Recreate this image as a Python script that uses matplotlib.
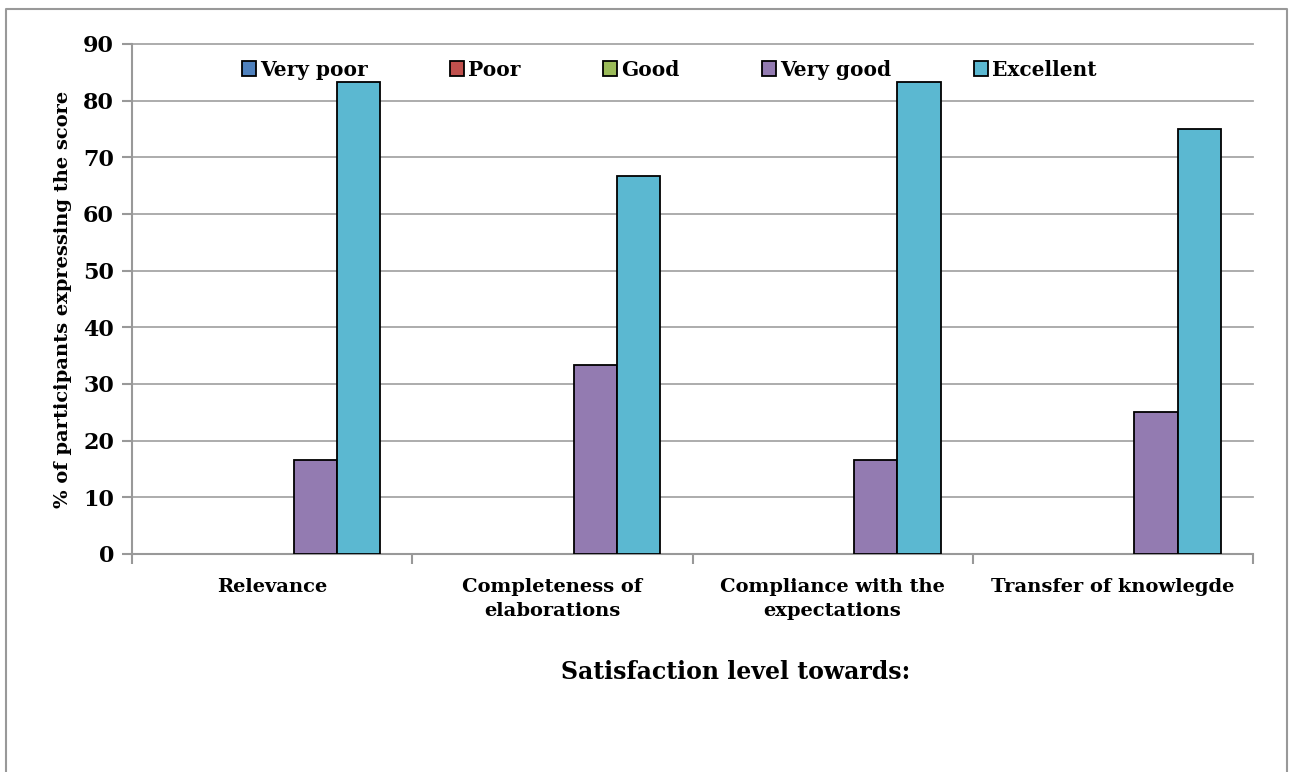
import matplotlib.pyplot as plt
import numpy as np
from matplotlib.lines import Line2D

# data
categories = ["Relevance", "Completeness of\nelaborations", "Compliance with the\nexpectations", "Transfer of knowlegde"]
series = ["Very poor", "Poor", "Good", "Very good", "Excellent"]
very_poor = [0, 0, 0, 0]
poor = [0, 0, 0, 0]
good = [0, 0, 0, 0]
very_good = [16.67, 33.33, 16.67, 25.0]
excellent = [83.33, 66.67, 83.33, 75.0]
colors = ['#4F81BD', '#C0504D', '#9BBB59', '#937BB1', '#5BB8D1']

plt.rcParams['font.family'] = ['DejaVu Serif']
plt.rcParams['font.weight'] = 'bold'

fig = plt.figure(figsize=(12.89, 7.72), dpi=100)
ax = fig.add_axes([132/1289, 1-554/772, (1253-132)/1289, (554-44)/772])

# outer chart border (left, top, right - bottom is cut off)
bx = [5.5/1289, 5.5/1289, 1287/1289, 1287/1289]
by = [0.0, 1-8.5/772, 1-8.5/772, 0.0]
fig.lines.append(Line2D(bx, by, transform=fig.transFigure, color='#999999', linewidth=1.5))

x = np.arange(len(categories))
w = 0.154
all_vals = [very_poor, poor, good, very_good, excellent]
for i, (name, vals) in enumerate(zip(series, all_vals)):
    lw = [1.3 if v > 0 else 0 for v in vals]
    ax.bar(x + (i - 2) * w, vals, w, color=colors[i], edgecolor='black', linewidth=lw, label=name, zorder=3)

ax.set_xlim(-0.5, 3.5)
ax.set_ylim(0, 90)
ax.set_yticks(range(0, 91, 10))
ax.set_xticks(np.arange(-0.5, 4, 1))
ax.set_xticklabels([])
ax.set_xticks(x, minor=True)
ax.set_xticklabels(categories, minor=True, fontsize=14, fontweight='bold', linespacing=1.45)
ax.tick_params(axis='x', which='minor', length=0, pad=17)
ax.tick_params(axis='x', which='major', length=7, color='#999999', width=1.5)
ax.tick_params(axis='y', length=7, color='#999999', width=1.5, labelsize=16, pad=6)
for lab in ax.get_yticklabels():
    lab.set_fontweight('bold')

ax.grid(axis='y', color='#a6a6a6', linewidth=1.3, zorder=0)
for gl in ax.yaxis.get_gridlines():
    gl.set_clip_on(False)
ax.set_axisbelow(True)
for s in ['top', 'right']:
    ax.spines[s].set_visible(False)
for s in ['left', 'bottom']:
    ax.spines[s].set_color('#999999')
    ax.spines[s].set_linewidth(1.5)

ax.set_ylabel("% of participants expressing the score", fontsize=14, fontweight='bold', labelpad=8)
fig.text(736/1289, 1-672/772, "Satisfaction level towards:", ha='center', va='center', fontsize=17, fontweight='bold')

leg = ax.legend(ncol=5, loc='upper center', bbox_to_anchor=(0.479, 1.005), frameon=False,
                handlelength=0.7, handleheight=0.7, handletextpad=0.2,
                columnspacing=4.1, prop={'weight': 'bold', 'size': 14.5})
for h in leg.legend_handles:
    h.set_edgecolor('black')
    h.set_linewidth(1.3)

fig.savefig('out.png', dpi=100)
